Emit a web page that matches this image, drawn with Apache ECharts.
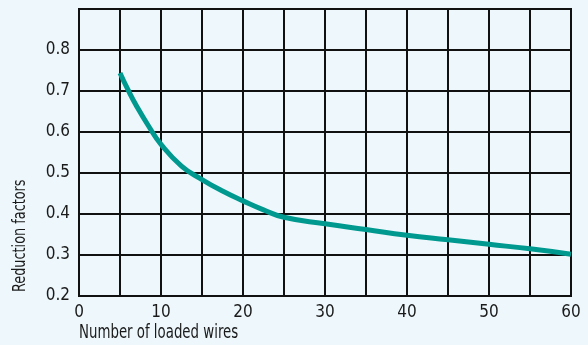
<!DOCTYPE html>
<html>
<head>
<meta charset="utf-8">
<script src="https://cdn.jsdelivr.net/npm/echarts@6/dist/echarts.min.js"></script>
<style>
html,body{margin:0;padding:0;background:#edf7fc;}
#chart{width:588px;height:345px;}
</style>
</head>
<body>
<div id="chart"></div>
<script>
var wires = [5, 6, 7, 8.5, 10, 12.5, 15, 17.5, 20, 22.5, 25, 30, 35, 40, 45, 50, 55, 60];
var factors = [0.744, 0.702, 0.664, 0.614, 0.570, 0.517, 0.484, 0.456, 0.432, 0.410, 0.392, 0.376, 0.362, 0.348, 0.337, 0.326, 0.315, 0.302];
var xTickLabels = ['0', '10', '20', '30', '40', '50', '60'];
var yTickLabels = ['0.2', '0.3', '0.4', '0.5', '0.6', '0.7', '0.8'];
var xTitle = 'Number of loaded wires';
var yTitle = 'Reduction factors';

var FONT = '"DejaVu Sans Condensed", "Liberation Sans Narrow", sans-serif';
var data = wires.map(function (w, i) { return [w, factors[i]]; });

var chart = echarts.init(document.getElementById('chart'), null, {renderer: 'canvas'});
chart.setOption({
  backgroundColor: '#edf7fc',
  animation: false,
  grid: {left: 79, right: 17, top: 9, bottom: 49, show: true, borderColor: '#111', borderWidth: 2},
  xAxis: {
    type: 'value', min: 0, max: 60, interval: 5,
    axisLine: {show: true, lineStyle: {color: '#111', width: 2}},
    axisTick: {show: false},
    splitLine: {show: true, lineStyle: {color: '#111', width: 2}},
    axisLabel: {
      color: '#1a1a1a', fontFamily: FONT, fontSize: 17, margin: 8,
      formatter: function (v) {
        var s = String(Math.round(v));
        return xTickLabels.indexOf(s) >= 0 ? s : '';
      }
    }
  },
  yAxis: {
    type: 'value', min: 0.2, max: 0.9, interval: 0.1,
    axisLine: {show: true, lineStyle: {color: '#111', width: 2}},
    axisTick: {show: false},
    splitLine: {show: true, lineStyle: {color: '#111', width: 2}},
    axisLabel: {
      color: '#1a1a1a', fontFamily: FONT, fontSize: 17, margin: 9,
      formatter: function (v) {
        var s = (Math.round(v * 10) / 10).toFixed(1);
        return yTickLabels.indexOf(s) >= 0 ? s : '';
      }
    }
  },
  graphic: [
    {type: 'text', x: 79, y: 333, scaleX: 0.78,
     style: {text: xTitle, fill: '#1a1a1a', font: '19px ' + FONT, textAlign: 'left', textVerticalAlign: 'middle'}},
    {type: 'text', x: 21, y: 292, rotation: Math.PI / 2, scaleX: 0.84,
     style: {text: yTitle, fill: '#1a1a1a', font: '17px ' + FONT, textAlign: 'left', textVerticalAlign: 'middle'}}
  ],
  series: [{
    type: 'line', data: data, smooth: 0.5, showSymbol: false,
    lineStyle: {color: '#00998f', width: 5}
  }]
});
</script>
</body>
</html>
